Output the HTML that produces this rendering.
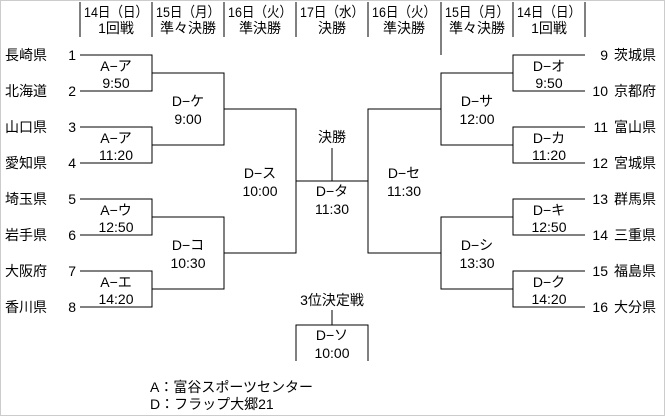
<!DOCTYPE html>
<html><head><meta charset="utf-8"><style>
html,body{margin:0;padding:0;background:#fff;}
svg{display:block;}
text{font-family:"Liberation Sans","Noto Sans CJK JP",sans-serif;font-size:14px;fill:#000;}
</style></head><body>
<svg width="665" height="416" xmlns="http://www.w3.org/2000/svg">
<rect x="0.5" y="0.5" width="664" height="415" fill="none" stroke="#ccc"/>
<g stroke="#000" stroke-width="1" fill="none" shape-rendering="crispEdges">
<path d="M80 2V37M152 2V37M224 2V37M296 2V37M368 2V37M441 2V55M513 2V37M585 2V37"/>
<path d="M80 55H152V91H80M80 127H152V163H80M80 199H152V235H80M80 271H152V307H80"/>
<path d="M152 73H224V145H152M152 217H224V289H152"/>
<path d="M224 109H296V253H224M441 109H368V253H441"/>
<path d="M296 181H368M332 148V181"/>
<path d="M585 55H513V91H585M585 127H513V163H585M585 199H513V235H585M585 271H513V307H585"/>
<path d="M513 73H441V145H513M513 217H441V289H513"/>
<path d="M332 310V325M296 361V325H368V361"/>
</g>
<g text-anchor="middle">
<text x="116" y="17" textLength="64" lengthAdjust="spacingAndGlyphs">14日（日）</text><text x="116" y="33">1回戦</text>
<text x="188" y="17" textLength="64" lengthAdjust="spacingAndGlyphs">15日（月）</text><text x="188" y="33">準々決勝</text>
<text x="260" y="17" textLength="64" lengthAdjust="spacingAndGlyphs">16日（火）</text><text x="260" y="33">準決勝</text>
<text x="332" y="17" textLength="64" lengthAdjust="spacingAndGlyphs">17日（水）</text><text x="332" y="33">決勝</text>
<text x="404" y="17" textLength="64" lengthAdjust="spacingAndGlyphs">16日（火）</text><text x="404" y="33">準決勝</text>
<text x="477" y="17" textLength="64" lengthAdjust="spacingAndGlyphs">15日（月）</text><text x="477" y="33">準々決勝</text>
<text x="549" y="17" textLength="64" lengthAdjust="spacingAndGlyphs">14日（日）</text><text x="549" y="33">1回戦</text>

<text x="116" y="71">A−ア</text><text x="116" y="88">9:50</text>
<text x="116" y="143">A−ア</text><text x="116" y="160">11:20</text>
<text x="116" y="215">A−ウ</text><text x="116" y="232">12:50</text>
<text x="116" y="287">A−エ</text><text x="116" y="304">14:20</text>
<text x="188" y="106">D−ケ</text><text x="188" y="124">9:00</text>
<text x="188" y="250">D−コ</text><text x="188" y="268">10:30</text>
<text x="260" y="178">D−ス</text><text x="260" y="196">10:00</text>
<text x="332" y="142">決勝</text>
<text x="332" y="196">D−タ</text><text x="332" y="214">11:30</text>
<text x="404" y="178">D−セ</text><text x="404" y="196">11:30</text>
<text x="477" y="106">D−サ</text><text x="477" y="124">12:00</text>
<text x="477" y="250">D−シ</text><text x="477" y="268">13:30</text>
<text x="549" y="71">D−オ</text><text x="549" y="88">9:50</text>
<text x="549" y="143">D−カ</text><text x="549" y="160">11:20</text>
<text x="549" y="215">D−キ</text><text x="549" y="232">12:50</text>
<text x="549" y="287">D−ク</text><text x="549" y="304">14:20</text>
<text x="332" y="305">3位決定戦</text>
<text x="332" y="340">D−ソ</text><text x="332" y="358">10:00</text>
</g>
<g>
<text x="5" y="60">長崎県</text><text x="5" y="96">北海道</text><text x="5" y="132">山口県</text><text x="5" y="168">愛知県</text>
<text x="5" y="204">埼玉県</text><text x="5" y="240">岩手県</text><text x="5" y="276">大阪府</text><text x="5" y="312">香川県</text>
</g>
<g text-anchor="end">
<text x="76" y="60">1</text><text x="76" y="96">2</text><text x="76" y="132">3</text><text x="76" y="168">4</text>
<text x="76" y="204">5</text><text x="76" y="240">6</text><text x="76" y="276">7</text><text x="76" y="312">8</text>
<text x="608" y="60">9</text><text x="608" y="96">10</text><text x="608" y="132">11</text><text x="608" y="168">12</text>
<text x="608" y="204">13</text><text x="608" y="240">14</text><text x="608" y="276">15</text><text x="608" y="312">16</text>
</g>
<g>
<text x="614" y="60">茨城県</text><text x="614" y="96">京都府</text><text x="614" y="132">富山県</text><text x="614" y="168">宮城県</text>
<text x="614" y="204">群馬県</text><text x="614" y="240">三重県</text><text x="614" y="276">福島県</text><text x="614" y="312">大分県</text>
<text x="150" y="392">A：富谷スポーツセンター</text>
<text x="150" y="409">D：フラップ大郷21</text>
</g>
</svg>
</body></html>
